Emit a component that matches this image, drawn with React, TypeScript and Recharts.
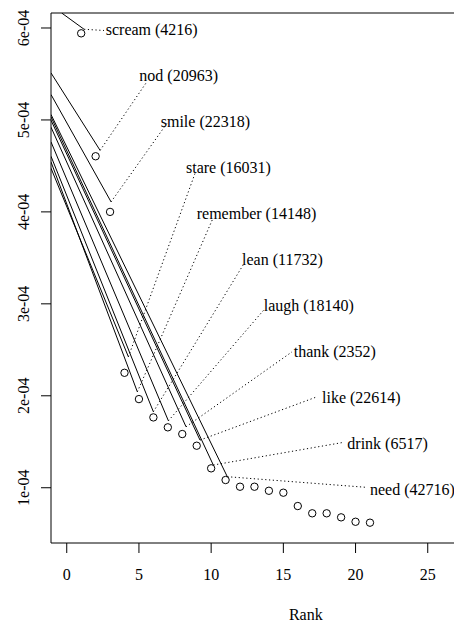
import React from "react";
import {
  ScatterChart,
  Scatter,
  XAxis,
  YAxis,
  ReferenceLine,
  Label,
} from "recharts";

// rank-frequency points (relative frequency)
const ranks = [1, 2, 3, 4, 5, 6, 7, 8, 9, 10, 11, 12, 13, 14, 15, 16, 17, 18, 19, 20, 21];
const freqs = [
  5.942e-4, 4.605e-4, 4.0e-4, 2.25e-4, 1.964e-4, 1.765e-4, 1.657e-4, 1.584e-4,
  1.457e-4, 1.211e-4, 1.084e-4, 1.011e-4, 1.011e-4, 0.967e-4, 0.946e-4,
  0.801e-4, 0.722e-4, 0.722e-4, 0.678e-4, 0.63e-4, 0.62e-4,
];

// labelled words for the first 11 ranks
const words = ["scream", "nod", "smile", "stare", "remember", "lean", "laugh", "thank", "like", "drink", "need"];
const counts = [4216, 20963, 22318, 16031, 14148, 11732, 18140, 2352, 22614, 6517, 42716];

// solid lines: start -> joint
const lineStartX = [-0.35, -1.09, -1.09, -1.09, -1.09, -1.09, -1.09, -1.09, -1.09, -1.09, -1.09];
const lineStartY = [6.163e-4, 5.511e-4, 5.276e-4, 4.475e-4, 4.543e-4, 4.605e-4, 4.761e-4, 4.921e-4, 4.997e-4, 5.033e-4, 5.059e-4];
const jointX = [1.2, 2.31, 3.07, 4.27, 4.89, 6.0, 7.04, 8.26, 9.23, 10.15, 11.12];
const jointY = [5.986e-4, 4.669e-4, 4.109e-4, 2.424e-4, 2.043e-4, 1.826e-4, 1.728e-4, 1.663e-4, 1.518e-4, 1.247e-4, 1.12e-4];

// dotted leaders: joint -> leader end
const leaderX = [2.58, 5.54, 6.93, 8.88, 10.13, 12.21, 13.64, 15.6, 17.33, 19.15, 20.78];
const leaderY = [5.973e-4, 5.413e-4, 4.961e-4, 4.417e-4, 3.932e-4, 3.421e-4, 2.932e-4, 2.478e-4, 1.989e-4, 1.493e-4, 1.004e-4];

// text anchors (left, middle)
const labelX = [2.7, 5.03, 6.51, 8.26, 9.0, 12.14, 13.64, 15.72, 17.68, 19.43, 21.0];
const labelY = [6.0e-4, 5.5e-4, 5.0e-4, 4.5e-4, 4.0e-4, 3.5e-4, 3.0e-4, 2.5e-4, 2.0e-4, 1.5e-4, 1.0e-4];

const xTicks = [0, 5, 10, 15, 20, 25];
const yTicks = [1e-4, 2e-4, 3e-4, 4e-4, 5e-4, 6e-4];
const yTickLabels = ["1e-04", "2e-04", "3e-04", "4e-04", "5e-04", "6e-04"];

const FONT = "Liberation Serif, DejaVu Serif, serif";
const FS = 16;
const txtStyle = { fontFamily: FONT, fontSize: FS, fill: "#000" };

const points = ranks.map((r, i) => ({ x: r, y: freqs[i] }));
const labels = words.map((w, i) => ({
  x: labelX[i],
  y: labelY[i],
  text: `${w} (${counts[i]})`,
}));

const XTick = (props: any) => {
  const { x, y, payload } = props;
  return (
    <text x={x} y={y + 25} textAnchor="middle" style={txtStyle}>
      {payload.value}
    </text>
  );
};

const YTick = (props: any) => {
  const { x, y, payload } = props;
  const idx = yTicks.findIndex((t) => Math.abs(t - payload.value) < 1e-9);
  const bx = x - 10;
  return (
    <text
      x={bx}
      y={y}
      textAnchor="middle"
      transform={`rotate(-90, ${bx}, ${y})`}
      style={txtStyle}
    >
      {idx >= 0 ? yTickLabels[idx] : ""}
    </text>
  );
};

const renderCircle = (props: any) => {
  const { cx, cy } = props;
  return <circle cx={cx} cy={cy} r={3.7} fill="none" stroke="#000" strokeWidth={1} />;
};

const renderText = (props: any) => {
  const { cx, cy, payload } = props;
  return (
    <text x={cx} y={cy + 1.5} dominantBaseline="central" style={txtStyle}>
      {payload.text}
    </text>
  );
};

export default function App() {
  const W = 600;
  const H = 624;
  return (
    <div
      style={{
        position: "absolute",
        left: 0,
        top: 0,
        width: 454,
        height: 624,
        overflow: "hidden",
        background: "#fff",
        fontFamily: FONT,
      }}
    >
      <ScatterChart
        width={W}
        height={H}
        margin={{ top: 13, right: W - 560.6, bottom: 0, left: 0 }}
        style={{ fontFamily: FONT }}
      >
        <XAxis
          type="number"
          dataKey="x"
          domain={[-1.09, 34.2]}
          ticks={xTicks}
          allowDataOverflow
          height={81}
          tickSize={10}
          tickMargin={2}
          tick={<XTick />}
          stroke="#000"
          tickLine={{ stroke: "#000" }}
        >
          <Label value="Rank" position="insideBottom" offset={4} style={txtStyle} />
        </XAxis>
        <YAxis
          type="number"
          dataKey="y"
          domain={[0.399e-4, 6.163e-4]}
          ticks={yTicks}
          allowDataOverflow
          width={51}
          tickSize={10}
          tickMargin={2}
          tick={<YTick />}
          stroke="#000"
          tickLine={{ stroke: "#000" }}
        />
        {/* box top and right */}
        <ReferenceLine y={6.163e-4} stroke="#000" />
        <ReferenceLine x={34.2} stroke="#000" />

        {words.map((w, i) => (
          <ReferenceLine
            key={`solid-${w}`}
            segment={[
              { x: lineStartX[i], y: lineStartY[i] },
              { x: jointX[i], y: jointY[i] },
            ]}
            stroke="#000"
            strokeWidth={1}
            ifOverflow="hidden"
          />
        ))}
        {words.map((w, i) => (
          <ReferenceLine
            key={`dot-${w}`}
            segment={[
              { x: jointX[i], y: jointY[i] },
              { x: leaderX[i], y: leaderY[i] },
            ]}
            stroke="#000"
            strokeWidth={1}
            strokeDasharray="1.2 2.6"
            ifOverflow="hidden"
          />
        ))}

        <Scatter data={points} shape={renderCircle} isAnimationActive={false} />
        <Scatter data={labels} shape={renderText} isAnimationActive={false} />
      </ScatterChart>
    </div>
  );
}
